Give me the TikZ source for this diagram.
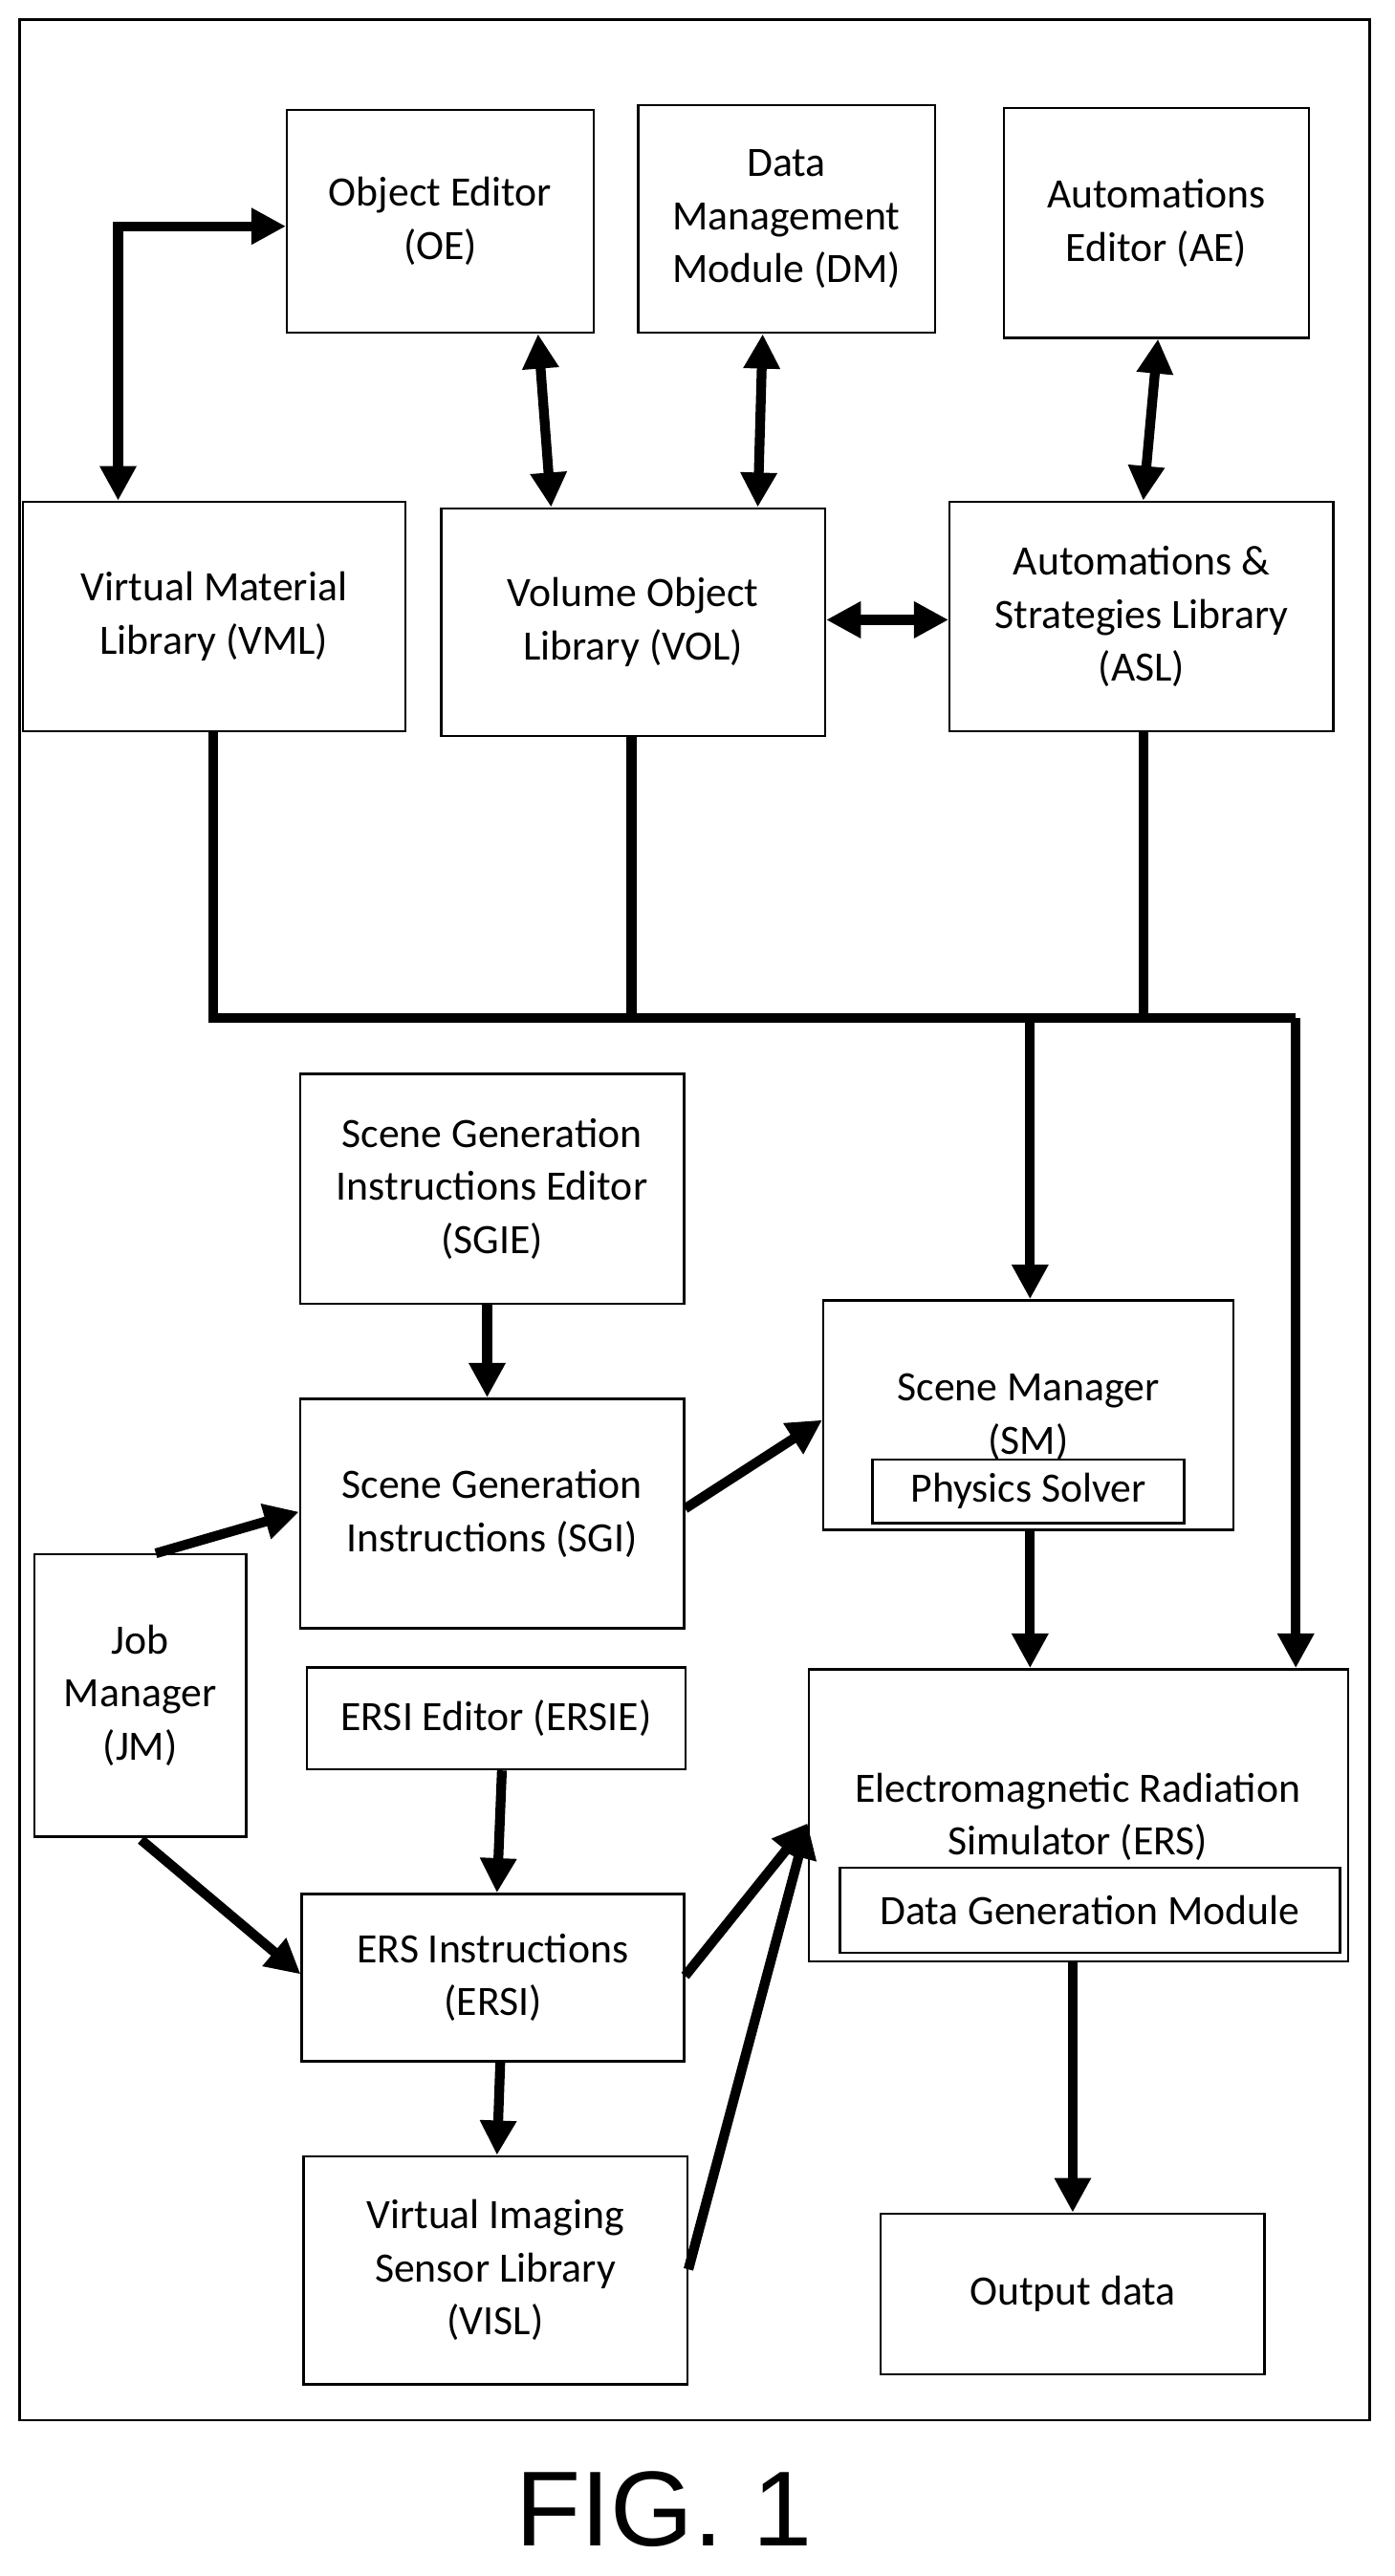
\documentclass[tikz,border=0pt]{standalone}
\usepackage{fontspec}
\setmainfont{Carlito}
\newfontfamily\figfont{Liberation Sans}
\usetikzlibrary{arrows.meta}
\newcommand{\bx}[6]{%
  \pgfmathsetmacro{\cx}{(#2+#4)/2}\pgfmathsetmacro{\cy}{(#3+#5)/2}%
  \pgfmathsetmacro{\ww}{(#4-#2)*0.02}\pgfmathsetmacro{\hh}{(#5-#3)*0.02}%
  \node[box,minimum width=\ww cm,minimum height=\hh cm] (#1) at (\cx,\cy) {#6};}
\begin{document}
\begin{tikzpicture}[x=0.02cm,y=-0.02cm,
  box/.style={draw,line width=0.8pt,align=center,inner sep=0pt,font=\fontsize{14.5}{18.5}\selectfont},
  lbl/.style={align=center,font=\fontsize{14.5}{18.5}\selectfont,inner sep=0pt},
  ar/.style={line width=3.4pt,-{Triangle[length=12pt,width=12pt]}},
  dar/.style={line width=3.4pt,{Triangle[length=12pt,width=12pt]}-{Triangle[length=12pt,width=12pt]}},
  bus/.style={line width=3.4pt}]
\useasboundingbox (0,0) rectangle (850,1571);
\draw[line width=0.9pt] (12,12) rectangle (835,1476);
\bx{OE}{175}{67}{362}{203}{Object Editor\\(OE)}
\bx{DM}{389}{64}{570}{203}{Data\\Management\\Module (DM)}
\bx{AE}{612}{66}{798}{206}{Automations\\Editor (AE)}
\bx{VML}{14}{306}{247}{446}{Virtual Material\\Library (VML)}
\bx{VOL}{269}{310}{503}{449}{Volume Object\\Library (VOL)}
\bx{ASL}{579}{306}{813}{446}{Automations \&\\Strategies Library\\(ASL)}
\bx{SGIE}{183}{655}{417}{795}{Scene Generation\\Instructions Editor\\(SGIE)}
\bx{SM}{502}{793}{752}{933}{}
\bx{PS}{532}{890}{722}{929}{Physics Solver}
\node[lbl] (SMt) at (627,864) {Scene Manager\\(SM)};
\bx{SGI}{183}{853}{417}{993}{Scene Generation\\Instructions (SGI)}
\bx{JM}{21}{948}{150}{1120}{Job\\Manager\\(JM)}
\bx{ERSIE}{187}{1017}{418}{1079}{ERSI Editor (ERSIE)}
\bx{ERS}{493}{1018}{822}{1196}{}
\bx{DGM}{512}{1139}{817}{1191}{Data Generation Module}
\node[lbl] (ERSt) at (657,1108) {Electromagnetic Radiation\\Simulator (ERS)};
\bx{ERSI}{184}{1155}{417}{1257}{ERS Instructions\\(ERSI)}
\bx{VISL}{185}{1315}{419}{1454}{Virtual Imaging\\Sensor Library\\(VISL)}
\bx{OUT}{537}{1350}{771}{1448}{Output data}
\node[font=\figfont\fontsize{37}{40}\selectfont] (fig) at (405,1530) {FIG. 1};
% arrows
\coordinate (c1) at (72,138);
\draw[dar] (VML.north -| c1) -- (c1) -- (OE.west |- c1);
\draw[dar] (OE.south -| 328,0) -- (VOL.north -| 336,0);
\draw[dar] (DM.south -| 465,0) -- (VOL.north -| 462,0);
\draw[dar] (AE.south -| 706,0) -- (ASL.north -| 697,0);
\draw[dar] (VOL.east |- 0,378) -- (ASL.west |- 0,378);
\coordinate (b1) at (130,621); \coordinate (b2) at (790,621);
\draw[bus] (VML.south -| b1) -- (b1) -- (b2);
\draw[bus] (VOL.south -| 385,0) -- (385,621);
\draw[bus] (ASL.south -| 697,0) -- (697,621);
\draw[ar] (b2) -- (ERS.north -| b2);
\draw[ar] (628,621) -- (SM.north -| 628,0);
\draw[ar] (SGIE.south -| 297,0) -- (SGI.north -| 297,0);
\draw[ar] (SGI.east |- 0,920) -- (SM.west |- 0,866);
\draw[ar] (JM.north -| 95,0) -- (SGI.west |- 0,922);
\draw[ar] (SM.south -| 628,0) -- (ERS.north -| 628,0);
\draw[ar] (ERSIE.south -| 306,0) -- (ERSI.north -| 303,0);
\draw[ar] (86,1122) -- (ERSI.west |- 0,1204);
\draw[ar] (ERSI.east |- 0,1205) -- (ERS.west |- 0,1112);
\draw[ar] (VISL.east |- 0,1384) -- (ERS.west |- 0,1112);
\draw[ar] (ERSI.south -| 305,0) -- (VISL.north -| 303,0);
\draw[ar] (ERS.south -| 654,0) -- (OUT.north -| 654,0);
\end{tikzpicture}
\end{document}
